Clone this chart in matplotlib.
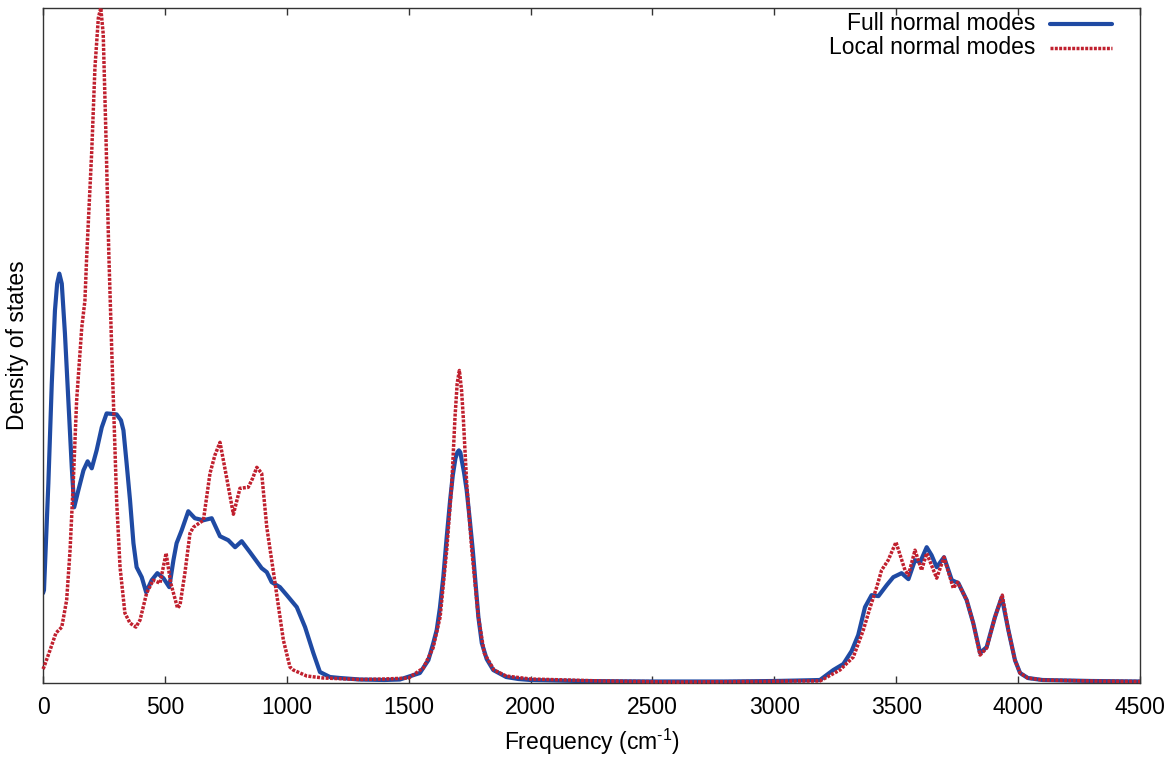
import matplotlib
matplotlib.use("Agg")
import matplotlib.pyplot as plt
from matplotlib.lines import Line2D

# Vibrational density of states (arbitrary units) vs frequency (cm^-1)
full_freq = [0, 4, 22, 36, 49, 58, 67, 77, 90, 104, 118, 128, 145, 166, 183, 200,
             220, 241, 261, 302, 320, 330, 343, 357, 371, 384, 405, 423, 446, 469,
             494, 518, 535, 548, 569, 596, 623, 658, 692, 726, 760, 788, 815, 849,
             897, 918, 938, 972, 1000, 1041, 1075, 1109, 1136, 1177, 1218, 1300,
             1400, 1464, 1546, 1581, 1601, 1615, 1628, 1642, 1656, 1670, 1681, 1692,
             1700, 1706, 1712, 1717, 1727, 1738, 1750, 1763, 1775, 1786, 1800, 1820,
             1847, 1900, 1950, 2000, 2200, 2500, 2800,
             3000, 3100, 3187, 3242, 3283, 3317, 3344, 3372, 3399, 3427, 3461, 3488,
             3522, 3550, 3577, 3598, 3625, 3645, 3666, 3696, 3728, 3755, 3789, 3816,
             3844, 3871, 3905, 3933, 3960, 3987, 4008, 4040, 4100, 4300, 4500]
full_dos = [0.90, 0.93, 2.00, 3.00, 3.73, 4.00, 4.10, 4.00, 3.50, 2.83, 2.16, 1.76,
            1.93, 2.13, 2.22, 2.15, 2.33, 2.56, 2.70, 2.69, 2.63, 2.53, 2.20, 1.83,
            1.40, 1.16, 1.06, 0.91, 1.03, 1.10, 1.05, 0.96, 1.23, 1.40, 1.53, 1.72,
            1.65, 1.63, 1.65, 1.47, 1.43, 1.36, 1.42, 1.31, 1.15, 1.11, 1.01, 0.96,
            0.88, 0.76, 0.56, 0.30, 0.11, 0.06, 0.05, 0.035, 0.03, 0.035, 0.10, 0.23,
            0.40, 0.53, 0.75, 1.06, 1.46, 1.83, 2.08, 2.25, 2.31, 2.33, 2.31, 2.24,
            2.11, 1.93, 1.65, 1.33, 0.98, 0.66, 0.40, 0.24,
            0.13, 0.06, 0.04, 0.03, 0.02, 0.015, 0.015, 0.02, 0.025, 0.03, 0.13,
            0.19, 0.32, 0.48, 0.76, 0.88, 0.87, 0.98, 1.06, 1.10, 1.04, 1.23, 1.21,
            1.36, 1.28, 1.16, 1.26, 1.03, 1.00, 0.83, 0.60, 0.30, 0.36, 0.66, 0.86,
            0.53, 0.23, 0.10, 0.05, 0.03, 0.02, 0.015]

local_freq = [0, 4, 29, 53, 77, 97, 111, 124, 138, 159, 172, 179, 200, 213, 227, 237,
              247, 258, 270, 282, 291, 302, 316, 336, 357, 381, 398, 425, 452, 480,
              505, 524, 552, 562, 582, 603, 617, 640, 658, 685, 705, 726, 750, 781,
              808, 842, 860, 877, 897, 918, 952, 986, 1013, 1027, 1082, 1150, 1300,
              1400, 1500, 1560, 1600, 1629, 1656, 1677, 1690, 1699, 1708, 1717, 1724,
              1738, 1759, 1786, 1810, 1850, 1900, 2000, 2300, 2600, 2900, 3100, 3187,
              3269, 3324, 3365, 3392, 3420, 3440, 3467, 3499, 3536, 3550, 3577, 3604,
              3625, 3666, 3696, 3734, 3752, 3789, 3816, 3844, 3871, 3905, 3935, 3960,
              3987, 4008, 4040, 4100, 4300, 4500]
local_dos = [0.14, 0.16, 0.33, 0.50, 0.56, 0.83, 1.33, 2.00, 2.83, 3.56, 3.83, 4.26,
             5.33, 6.16, 6.66, 6.76, 6.50, 5.50, 4.30, 3.33, 2.66, 1.83, 1.16, 0.70,
             0.60, 0.56, 0.63, 0.90, 1.03, 1.00, 1.30, 1.00, 0.75, 0.78, 1.10, 1.50,
             1.56, 1.60, 1.63, 2.10, 2.28, 2.41, 2.10, 1.69, 1.95, 1.96, 2.05, 2.16,
             2.10, 1.56, 1.00, 0.43, 0.16, 0.13, 0.07, 0.05, 0.035, 0.04, 0.05, 0.15,
             0.35, 0.66, 1.33, 2.00, 2.66, 3.00, 3.13, 2.93, 2.66, 2.00, 1.33, 0.66,
             0.30, 0.13, 0.07, 0.04, 0.02, 0.01, 0.015, 0.02, 0.02, 0.13, 0.26, 0.53,
             0.75, 0.96, 1.13, 1.23, 1.41, 1.13, 1.08, 1.33, 1.13, 1.30, 1.05, 1.26,
             0.95, 1.01, 0.83, 0.60, 0.28, 0.35, 0.66, 0.88, 0.53, 0.23, 0.10, 0.05,
             0.03, 0.02, 0.015]

x_ticks = [0, 500, 1000, 1500, 2000, 2500, 3000, 3500, 4000, 4500]
series_labels = ["Full normal modes", "Local normal modes"]

BLUE = "#1f4aa3"
RED = "#c0202e"
FONT = ["Liberation Sans", "DejaVu Sans"]
plt.rcParams["font.family"] = FONT
plt.rcParams["mathtext.fontset"] = "custom"
plt.rcParams["mathtext.rm"] = "Liberation Sans"
plt.rcParams["mathtext.it"] = "Liberation Sans:italic"

W, H = 1173, 758
fig = plt.figure(figsize=(W / 100, H / 100), dpi=100)
ax = fig.add_axes([43 / W, (H - 683) / H, (1140 - 43) / W, (683 - 8) / H])

blue_style = dict(color=BLUE, lw=3.0, solid_capstyle="round", solid_joinstyle="round")
red_style = dict(color=RED, lw=2.5, linestyle=(0, (0.85, 0.4)), dash_joinstyle="round")

ax.plot(full_freq, full_dos, **blue_style, zorder=2)
ax.plot(local_freq, local_dos, **red_style, zorder=3, clip_on=False)

ax.set_xlim(0, 4500)
ax.set_ylim(0, 6.76)
ax.set_xticks(x_ticks)
ax.set_xticklabels([str(t) for t in x_ticks])
ax.set_yticks([])
ax.tick_params(axis="x", direction="in", length=5, width=1, color="#333333",
               top=True, labelsize=16.5, pad=9)
for s in ax.spines.values():
    s.set_color("#333333")
    s.set_linewidth(1.0)

ax.set_xlabel(r"Frequency (cm$^{\mathregular{\text{-}1}}$)", fontsize=16.5, labelpad=6)
ax.set_ylabel("Density of states", fontsize=16.5, labelpad=10)

# key, text right-justified with its sample line to the right
for i, (lab, style) in enumerate(zip(series_labels, [blue_style, red_style])):
    yk = 1 - (24 + 24 * i) / H
    fig.text(1035 / W, yk, lab, ha="right", va="center", fontsize=16.5)
    fig.add_artist(Line2D([1050 / W, 1112 / W], [yk, yk], transform=fig.transFigure,
                          **style))

fig.savefig("out.png", dpi=100)
